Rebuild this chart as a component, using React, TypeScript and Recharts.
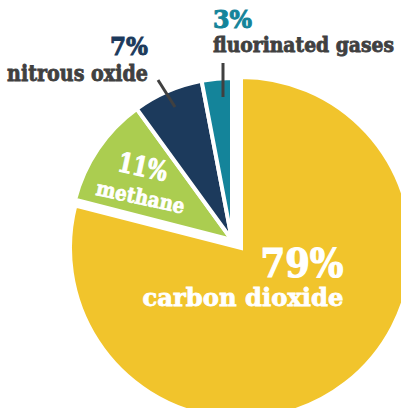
import { PieChart, Pie, Cell } from 'recharts';

// greenhouse gas shares (%)
const gasNames = ['carbon dioxide', 'methane', 'nitrous oxide', 'fluorinated gases'];
const gasShares = [79, 11, 7, 3];
const gasColors = ['#F1C42C', '#ABCD50', '#1C3A5C', '#14849A'];

const FONT = '"DejaVu Serif", serif';
const DARK = '#404040';

const all = gasNames.map((name, i) => ({ name, value: gasShares[i], color: gasColors[i] }));
const total = gasShares.reduce((s, v) => s + v, 0);
const co2End = 90 - (360 * gasShares[0]) / total;

const co2Data = all.slice(0, 1);
const restData = all.slice(1);

// heavier look than DejaVu bold alone
const heavy = (c: string, w = 0.8) => ({ fill: c, stroke: c, strokeWidth: w });

function Co2Label() {
  return (
    <g fontFamily={FONT} fontWeight="bold">
      <text x={302} y={277} fontSize={39} textAnchor="middle" textLength={83} lengthAdjust="spacingAndGlyphs" {...heavy('#fff', 1.2)}>
        {`${gasShares[0]}%`}
      </text>
      <text x={243} y={306} fontSize={24} textAnchor="middle" textLength={201} lengthAdjust="spacingAndGlyphs" {...heavy('#fff')}>
        {gasNames[0]}
      </text>
    </g>
  );
}

function RestLabel(props: any) {
  const { index } = props;
  if (index === 0) {
    return (
      <g fontFamily={FONT} fontWeight="bold" transform="rotate(12 140 185)">
        <text x={139} y={176} fontSize={27} textAnchor="middle" textLength={50} lengthAdjust="spacingAndGlyphs" {...heavy('#fff', 1)}>
          {`${gasShares[1]}%`}
        </text>
        <text x={143} y={204} fontSize={21} textAnchor="middle" textLength={90} lengthAdjust="spacingAndGlyphs" {...heavy('#fff')}>
          {gasNames[1]}
        </text>
      </g>
    );
  }
  if (index === 1) {
    return (
      <g fontFamily={FONT} fontWeight="bold">
        <line x1={158} y1={80} x2={175} y2={107} stroke={DARK} strokeWidth={3} />
        <text x={148} y={55} fontSize={25} textAnchor="end" textLength={38} lengthAdjust="spacingAndGlyphs" {...heavy(gasColors[2], 1)}>
          {`${gasShares[2]}%`}
        </text>
        <text x={7} y={81} fontSize={22} textLength={141} lengthAdjust="spacingAndGlyphs" {...heavy(DARK)}>
          {gasNames[2]}
        </text>
      </g>
    );
  }
  return (
    <g fontFamily={FONT} fontWeight="bold">
      <line x1={223} y1={63} x2={223} y2={97} stroke={DARK} strokeWidth={3} />
      <text x={213} y={28} fontSize={24} textLength={39} lengthAdjust="spacingAndGlyphs" {...heavy(gasColors[3], 1)}>
        {`${gasShares[3]}%`}
      </text>
      <text x={213} y={52} fontSize={20} textLength={181} lengthAdjust="spacingAndGlyphs" {...heavy(DARK)}>
        {gasNames[3]}
      </text>
    </g>
  );
}

export default function App() {
  return (
    <div style={{ position: 'absolute', left: 0, top: 0, width: 401, height: 408, background: '#fff' }}>
      <PieChart width={401} height={408} margin={{ top: 0, right: 0, bottom: 0, left: 0 }}>
        <Pie
          data={co2Data}
          dataKey="value"
          cx={241}
          cy={248}
          outerRadius={171}
          startAngle={90}
          endAngle={co2End}
          stroke="#fff"
          strokeWidth={4}
          label={<Co2Label />}
          labelLine={false}
          isAnimationActive={false}
        >
          {co2Data.map((d) => (
            <Cell key={d.name} fill={d.color} />
          ))}
        </Pie>
        <Pie
          data={restData}
          dataKey="value"
          cx={232}
          cy={240}
          outerRadius={162}
          startAngle={co2End}
          endAngle={-270}
          stroke="#fff"
          strokeWidth={4}
          label={RestLabel}
          labelLine={false}
          isAnimationActive={false}
        >
          {restData.map((d) => (
            <Cell key={d.name} fill={d.color} />
          ))}
        </Pie>
      </PieChart>
    </div>
  );
}
